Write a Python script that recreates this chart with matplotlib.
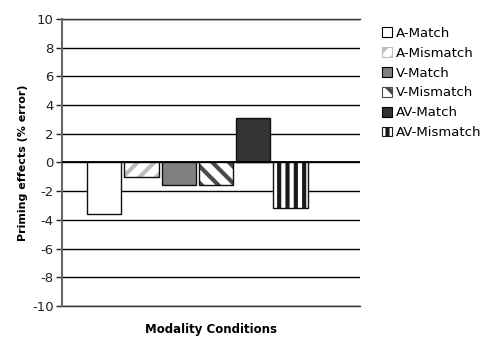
import matplotlib
matplotlib.use('agg')
import matplotlib.pyplot as plt
from matplotlib.patches import Patch

conditions = ['A-Match', 'A-Mismatch', 'V-Match', 'V-Mismatch', 'AV-Match', 'AV-Mismatch']
effects = [-3.6, -1.0, -1.6, -1.6, 3.1, -3.2]
y_ticks = [-10, -8, -6, -4, -2, 0, 2, 4, 6, 8, 10]

# fill colour, hatch pattern, hatch colour for each condition
styles = [
    ('white', '', 'black'),
    ('white', '//', '#bdbdbd'),
    ('#808080', '', 'black'),
    ('white', '\\\\', '#4a4a4a'),
    ('#333333', '', 'black'),
    ('white', '||', '#1a1a1a'),
]

plt.rcParams['font.family'] = ['DejaVu Sans']
plt.rcParams['axes.unicode_minus'] = False
plt.rcParams['hatch.linewidth'] = 3.0

fig = plt.figure(figsize=(4.86, 3.38), dpi=100)
ax = fig.add_axes([0.1276, 0.0947, 0.6131, 0.8491])

for i, (val, (fc, hatch, hc)) in enumerate(zip(effects, styles)):
    ax.bar(i, val, width=0.92, color=fc, hatch=hatch, edgecolor=hc, linewidth=0, zorder=2)
    ax.bar(i, val, width=0.92, fill=False, edgecolor='#111111', linewidth=1.0, zorder=3)

ax.set_xlim(-1.13, 6.86)
ax.set_ylim(-10, 10)
ax.set_yticks(y_ticks)
ax.set_xticks([])
ax.yaxis.grid(True, color='black', linewidth=1.0)
ax.set_axisbelow(True)
for y in (-10, 10):
    ax.axhline(y, color='#333333', linewidth=1.0, clip_on=False, zorder=1)
ax.tick_params(axis='y', direction='out', length=4, width=1, labelsize=9.5,
               colors='#222222', pad=2)
for side in ['top', 'right', 'bottom']:
    ax.spines[side].set_visible(False)
ax.spines['left'].set_color('#666666')
ax.spines['left'].set_linewidth(1.5)
ax.axhline(0, color='black', linewidth=1.3, zorder=4)

ax.set_ylabel('Priming effects (% error)', fontsize=8, fontweight='bold', labelpad=3)
ax.set_xlabel('Modality Conditions', fontsize=8.5, fontweight='bold', labelpad=12)

handles = [Patch(facecolor=fc, hatch=hatch, edgecolor=hc if hatch else 'black', linewidth=0.8)
           for fc, hatch, hc in styles]
fig.legend(handles, conditions, loc='upper left', bbox_to_anchor=(0.772, 0.94),
           frameon=False, fontsize=9.5, handlelength=0.75, handleheight=0.75,
           handletextpad=0.35, labelspacing=0.52, borderpad=0)

fig.savefig('out.png', dpi=100)
